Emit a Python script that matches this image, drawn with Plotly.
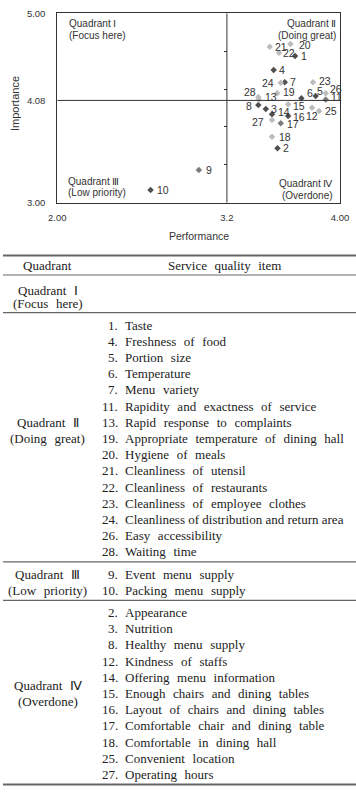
import plotly.graph_objects as go

# ---------------- data ----------------
items = list(range(1, 29))
item_names = [
    "Taste", "Appearance", "Nutrition", "Freshness of food", "Portion size",
    "Temperature", "Menu variety", "Healthy menu supply", "Event menu supply",
    "Packing menu supply", "Rapidity and exactness of service", "Kindness of staffs",
    "Rapid response to complaints", "Offering menu information",
    "Enough chairs and dining tables", "Layout of chairs and dining tables",
    "Comfortable chair and dining table", "Comfortable in dining hall",
    "Appropriate temperature of dining hall", "Hygiene of meals",
    "Cleanliness of utensil", "Cleanliness of restaurants",
    "Cleanliness of employee clothes", "Cleanliness of distribution and return area",
    "Convenient location", "Easy accessibility", "Operating hours", "Waiting time",
]
performance = [3.682, 3.558, 3.475, 3.531, 3.828, 3.727, 3.609, 3.422, 3.001, 2.660,
               3.899, 3.802, 3.425, 3.519, 3.633, 3.633, 3.581, 3.519, 3.555, 3.649,
               3.503, 3.569, 3.809, 3.581, 3.852, 3.899, 3.519, 3.422]
importance = [4.549, 3.574, 3.989, 4.401, 4.127, 4.102, 4.271, 4.032, 3.345, 3.134,
              4.090, 4.003, 4.090, 3.933, 4.039, 3.916, 3.838, 3.697, 4.155, 4.676,
              4.647, 4.584, 4.271, 4.267, 3.968, 4.155, 3.873, 4.116]
marker_tone = ["dark", "dark", "dark", "dark", "dark", "dark", "dark", "dark", "mid", "dark",
               "mid", "light", "light", "dark", "light", "dark", "mid", "light", "light", "light",
               "light", "light", "light", "light", "light", "light", "light", "light"]
perf_mean = 3.2
imp_mean = 4.08
x_ticks = [2.0, 3.2, 4.0]
x_ticktext = ["2.00", "3.2", "4.00"]
y_ticks = [3.0, 4.08, 5.0]
y_ticktext = ["3.00", "4.08", "5.00"]
minor_y_ticks = [3.4, 3.8, 4.2, 4.6]
quadrant_names = ["Quadrant Ⅰ", "Quadrant Ⅱ", "Quadrant Ⅲ", "Quadrant Ⅳ"]
quadrant_desc = ["(Focus here)", "(Doing great)", "(Low priority)", "(Overdone)"]

# ---------------- layout helpers ----------------
W, H = 356, 792
def px(x): return x / W
def py(y): return 1 - y / H

tone_color = {"dark": "#505050", "mid": "#7c7c7c", "light": "#bcbcbc"}
# label placement relative to its marker: (anchor, dx px, dy px down)
label_offset = {
    20: ("left", 6.5, 1), 22: ("left", 2, 0), 24: ("right", -4.5, 0),
    23: ("left", 3.5, -1), 26: ("left", 2, -4), 28: ("right", -0.5, -5.5),
    13: ("left", 4, -2.5), 19: ("left", 3.5, -1), 6: ("left", 3.8, -5.5),
    5: ("left", -1, -5), 11: ("left", 3.2, -2), 8: ("right", -4.8, 1),
    15: ("left", 3.2, 1.5), 14: ("left", 3.5, -2), 16: ("left", 3.2, 0.7),
    12: ("center", 0.3, 8.3), 25: ("left", 4.2, 0), 27: ("right", -6.5, 2.3),
    17: ("left", 4.2, 1), 18: ("left", 4.5, 0), 9: ("left", 4.8, 0), 10: ("left", 4.5, 0),
}

x_dom = [px(57.3), px(340)]
y_dom = [py(202.7), py(13.3)]
SANS = "Liberation Sans, Arial, sans-serif"
SERIF = "Liberation Serif, Times New Roman, serif"

fig = go.Figure()
fig.add_trace(go.Scatter(
    x=performance, y=importance, mode="markers",
    marker=dict(symbol="diamond", size=5, color=[tone_color[t] for t in marker_tone]),
    cliponaxis=False, showlegend=False, hoverinfo="skip"))
fig.add_trace(go.Scatter(x=[], y=[], yaxis="y2", showlegend=False, hoverinfo="skip"))

fig.add_shape(type="line", xref="x", yref="y", x0=2, x1=4, y0=imp_mean, y1=imp_mean,
              line=dict(color="#333", width=1))
fig.add_shape(type="line", xref="x", yref="y", x0=perf_mean, x1=perf_mean, y0=3, y1=5,
              line=dict(color="#333", width=1))

ann = []
# point labels (data coordinates through the axes)
for it, p, i in zip(items, performance, importance):
    anc, dx, dy = label_offset.get(it, ("left", 3.5, 0))
    ann.append(dict(x=p, y=i, xref="x", yref="y", text=str(it), showarrow=False,
                    xanchor=anc, yanchor="middle", xshift=dx, yshift=-dy,
                    font=dict(family=SANS, size=10.5, color="#333")))

def add_text(x, y, t, size, family, xanchor="center", color="#333", angle=0):
    ann.append(dict(x=px(x), y=py(y), xref="paper", yref="paper", text=t, showarrow=False,
                    xanchor=xanchor, yanchor="middle", textangle=angle,
                    font=dict(family=family, size=size, color=color)))

# quadrant labels in chart
add_text(66.5, 24, quadrant_names[0], 10, SANS, "left")
add_text(66.5, 35, quadrant_desc[0], 10, SANS, "left")
add_text(338, 24, quadrant_names[1], 10, SANS, "right")
add_text(338, 35, quadrant_desc[1], 10, SANS, "right")
add_text(65.5, 181, quadrant_names[2], 10, SANS, "left")
add_text(65.5, 192.5, quadrant_desc[2], 10, SANS, "left")
add_text(335, 183, quadrant_names[3], 10, SANS, "right")
add_text(335, 195, quadrant_desc[3], 10, SANS, "right")
# axis titles
add_text(199, 236, "Performance", 10.5, SANS)
add_text(15, 104, "Importance", 11, SANS, angle=-90)

# ---------------- table ----------------
TC = "#222"
FS = 13

def widen(s):
    # wide word spacing of the typeset table; the longest line is set tight
    if len(s) > 40:
        return s
    return s.replace(" ", " \u2004")

shapes = []
def rule(y, w):
    shapes.append(dict(type="line", xref="paper", yref="paper", x0=px(3), x1=px(356),
                       y0=py(y), y1=py(y), line=dict(color="#666", width=w)))

rule(255.5, 2)
add_text(47.7, 265.5, "Quadrant", FS, SERIF, color=TC)
add_text(224, 265.5, widen("Service quality item"), FS, SERIF, color=TC)
rule(275, 1.2)

def quadrant_of(p, i):
    if p >= perf_mean:
        return 1 if i >= imp_mean else 3
    return 0 if i >= imp_mean else 2

groups = {q: [] for q in range(4)}
for it, p, i in zip(items, performance, importance):
    groups[quadrant_of(p, i)].append(it)

ROW = 16.2
label_row = {1: 6, 2: 0, 3: 4.5}
y_rule = 275
for q in range(4):
    members = sorted(groups[q])
    if not members:
        add_text(47.7, y_rule + 15.7, widen(quadrant_names[q]), FS, SERIF, color=TC)
        add_text(47.7, y_rule + 28.3, widen(quadrant_desc[q]), FS, SERIF, color=TC)
        y_rule = y_rule + 37.7
    else:
        y0 = y_rule + 12.3
        for k, it in enumerate(members):
            yy = y0 + k * ROW
            add_text(119.5, yy, f"{it}.", FS, SERIF, "right", TC)
            add_text(122.7, yy, widen(item_names[it - 1]), FS, SERIF, "left", TC)
        lr = label_row.get(q, (len(members) - 2) / 2)
        add_text(47.7, y0 + lr * ROW, widen(quadrant_names[q]), FS, SERIF, color=TC)
        add_text(47.7, y0 + (lr + 1) * ROW, widen(quadrant_desc[q]), FS, SERIF, color=TC)
        y_rule = y0 + (len(members) - 1) * ROW + 10
    rule(y_rule, 2 if q == 3 else 1.2)

fig.update_layout(
    width=W, height=H, margin=dict(l=0, r=0, t=0, b=0),
    paper_bgcolor="white", plot_bgcolor="white", showlegend=False,
    annotations=ann, shapes=fig.layout.shapes + tuple(shapes),
    xaxis=dict(domain=x_dom, range=[2, 4], tickvals=x_ticks, ticktext=x_ticktext,
               showgrid=False, zeroline=False, showline=True, mirror=True,
               linecolor="#333", linewidth=1, ticks="", ticklabelstandoff=6,
               tickfont=dict(family=SANS, size=9.5, color="#333"), fixedrange=True,
               automargin=False),
    yaxis=dict(domain=y_dom, range=[3, 5], tickvals=y_ticks, ticktext=y_ticktext,
               showgrid=False, zeroline=False, showline=True, mirror=True,
               linecolor="#333", linewidth=1, ticks="", ticklabelstandoff=9,
               tickfont=dict(family=SANS, size=9.5, color="#333"), fixedrange=True,
               automargin=False),
    yaxis2=dict(overlaying="y", anchor="free", side="left",
                position=x_dom[0] + (perf_mean - 2) / 2 * (x_dom[1] - x_dom[0]),
                range=[3, 5], tickvals=minor_y_ticks, ticks="outside", ticklen=3,
                tickcolor="#333", showticklabels=False, showgrid=False,
                zeroline=False, showline=False, fixedrange=True, automargin=False),
)
fig.write_html("out.html")
